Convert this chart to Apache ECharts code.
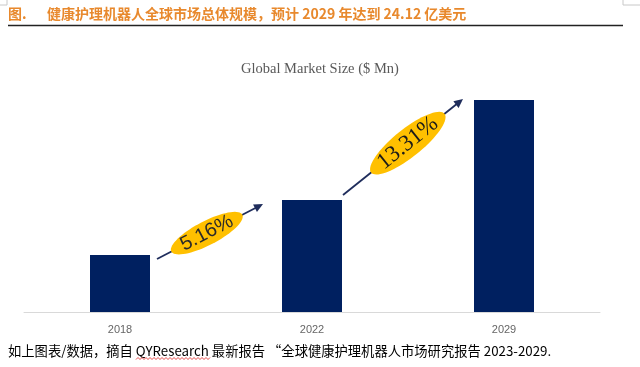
<!DOCTYPE html>
<html>
<head>
<meta charset="utf-8">
<script src="https://cdn.jsdelivr.net/npm/echarts@6/dist/echarts.min.js"></script>
<style>
html,body{margin:0;padding:0;background:#fff;}
#chart{width:640px;height:367px;}
</style>
</head>
<body>
<div id="chart"></div>
<script>
// ---- data ----
const categories = ['2018', '2022', '2029'];
const marketSize = [649, 1274, 2412];           // $ Mn (2029 = 24.12 亿美元)
const growthLabels = ['5.16%', '13.31%'];        // CAGR between consecutive years
const figureTitle = '健康护理机器人全球市场总体规模，预计 2029 年达到 24.12 亿美元';
const chartTitle = 'Global Market Size ($ Mn)';
const sourceNote = '如上图表/数据，摘自 QYResearch 最新报告 “全球健康护理机器人市场研究报告 2023-2029.';

const chart = echarts.init(document.getElementById('chart'), null, {renderer: 'canvas'});

chart.setOption({
  animation: false,
  backgroundColor: '#ffffff',
  title: {
    text: chartTitle,
    left: 236, top: 57,
    textStyle: {fontFamily: 'Liberation Serif', fontSize: 14.5, fontWeight: 'normal', color: '#595959'}
  },
  grid: {left: 24, right: 40, top: 100, bottom: 55},
  xAxis: {
    type: 'category',
    data: categories,
    axisLine: {lineStyle: {color: '#d9d9d9', width: 1}},
    axisTick: {show: false},
    axisLabel: {color: '#666666', fontSize: 11, fontFamily: 'Liberation Sans', margin: 12}
  },
  yAxis: {type: 'value', min: 0, max: 2412, show: false, splitLine: {show: false}},
  series: [{
    type: 'bar',
    data: marketSize,
    barWidth: 60,
    itemStyle: {color: '#002060'}
  }]
});

// ---- annotations placed from bar positions ----
const pts = categories.map((c, i) => chart.convertToPixel({gridIndex: 0}, [i, marketSize[i]]));
const half = 30;
const arrowSpecs = [
  {from: 0, to: 1, s: [half + 7, 4], e: [-half - 19, 4], t: 0.47, rx: 40, ry: 12,
   font: 'normal 20px "Liberation Sans"', color: '#2a2a2a'},
  {from: 1, to: 2, s: [half + 1, -5], e: [-half - 11, -1], t: 0.54, rx: 47, ry: 14,
   font: 'normal 23px "Liberation Serif"', color: '#1a1a1a'}
];

const lines = [], ellipses = [], texts = [];
arrowSpecs.forEach((a, k) => {
  const p0 = pts[a.from], p1 = pts[a.to];
  const sx = p0[0] + a.s[0], sy = p0[1] + a.s[1];
  const ex = p1[0] + a.e[0], ey = p1[1] + a.e[1];
  const dx = ex - sx, dy = ey - sy, len = Math.hypot(dx, dy);
  const ux = dx / len, uy = dy / len;
  const headL = 9, headW = 4.2;
  const bx = ex - ux * headL, by = ey - uy * headL;
  lines.push({type: 'line', shape: {x1: sx, y1: sy, x2: bx + ux, y2: by + uy},
    style: {stroke: '#1f2d5c', lineWidth: 1.8}, z: 10});
  lines.push({type: 'polygon', shape: {points: [[ex, ey], [bx - uy * headW, by + ux * headW], [bx + uy * headW, by - ux * headW]]},
    style: {fill: '#1f2d5c'}, z: 10});
  const cx = sx + dx * a.t, cy = sy + dy * a.t;
  const ang = Math.atan2(-dy, dx);
  const ep = [];
  for (let i = 0; i < 72; i++) {
    const th = i / 72 * Math.PI * 2;
    const lx = a.rx * Math.cos(th), ly = a.ry * Math.sin(th);
    ep.push([cx + lx * Math.cos(ang) + ly * Math.sin(ang), cy - lx * Math.sin(ang) + ly * Math.cos(ang)]);
  }
  ellipses.push({type: 'polygon', shape: {points: ep}, style: {fill: '#FFC000'}, z: 11});
  texts.push({type: 'text', x: cx, y: cy, rotation: ang,
    style: {text: growthLabels[k], font: a.font, fill: a.color, align: 'center', verticalAlign: 'middle',
      textAlign: 'center', textVerticalAlign: 'middle'}, z: 12});
});

// wavy underline under "QYResearch"
const wave = [];
for (let x = 136, i = 0; x <= 210; x += 2, i++) wave.push([x, i % 2 ? 357.5 : 359.5]);

chart.setOption({
  graphic: [
    // page corner marks
    {type: 'polyline', shape: {points: [[0, 5], [7, 5], [7, 0]]}, style: {stroke: '#c8c8c8', lineWidth: 1, fill: null}},
    {type: 'polyline', shape: {points: [[623, 0], [623, 5], [640, 5]]}, style: {stroke: '#c8c8c8', lineWidth: 1, fill: null}},
    // figure heading
    {type: 'text', x: 8, y: 14, style: {text: '图.', font: 'bold 14px "Noto Sans CJK SC"', fill: '#E8892D', verticalAlign: 'middle', textVerticalAlign: 'middle'}},
    {type: 'text', x: 47, y: 14, style: {text: figureTitle, font: 'bold 14px "Noto Sans CJK SC"', fill: '#E8892D', verticalAlign: 'middle', textVerticalAlign: 'middle'}},
    {type: 'line', shape: {x1: 8, y1: 25.5, x2: 623, y2: 25.5}, style: {stroke: '#222222', lineWidth: 1.5}},
    // source note
    {type: 'text', x: 8, y: 351, style: {text: sourceNote, font: 'normal 13.3px "Noto Sans CJK SC"', fill: '#000000', verticalAlign: 'middle', textVerticalAlign: 'middle'}},
    {type: 'polyline', shape: {points: wave}, style: {stroke: '#e02020', lineWidth: 0.8, fill: null}}
  ].concat(lines, ellipses, texts)
});
</script>
</body>
</html>
